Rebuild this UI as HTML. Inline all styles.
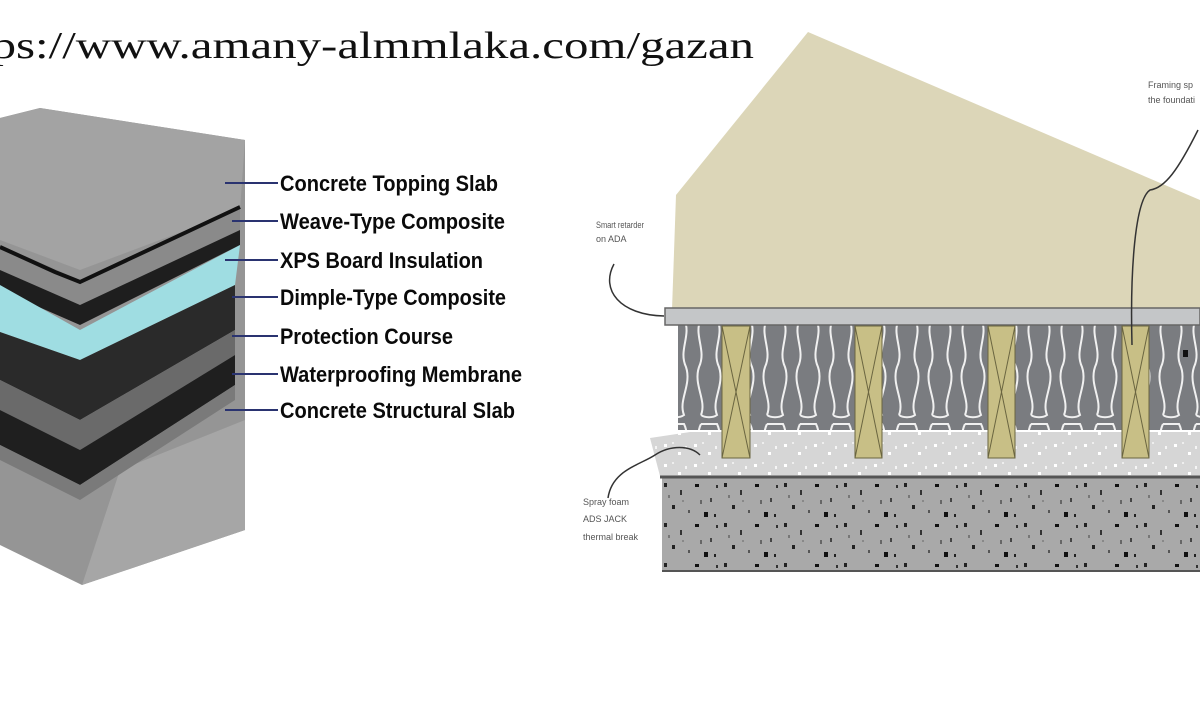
<!DOCTYPE html>
<html><head><meta charset="utf-8"><style>
html,body{margin:0;padding:0;background:#fff;width:1200px;height:720px;overflow:hidden}
</style></head><body>
<svg width="1200" height="720" viewBox="0 0 1200 720" xmlns="http://www.w3.org/2000/svg">
<defs>
<pattern id="spk" width="60" height="40" patternUnits="userSpaceOnUse">
<rect width="60" height="40" fill="#a9a9a9"/>
<rect x="4" y="3" width="3" height="4" fill="#222"/><rect x="20" y="10" width="2" height="5" fill="#333"/>
<rect x="35" y="4" width="4" height="3" fill="#111"/><rect x="50" y="18" width="2" height="4" fill="#444"/>
<rect x="12" y="25" width="3" height="4" fill="#222"/><rect x="28" y="30" width="2" height="3" fill="#555"/>
<rect x="44" y="32" width="4" height="5" fill="#111"/><rect x="8" y="15" width="2" height="3" fill="#777"/>
<rect x="40" y="20" width="2" height="4" fill="#666"/><rect x="56" y="5" width="2" height="3" fill="#333"/>
<rect x="22" y="20" width="2" height="2" fill="#888"/><rect x="54" y="34" width="2" height="3" fill="#222"/>
</pattern>
<pattern id="foam" width="30" height="20" patternUnits="userSpaceOnUse">
<rect width="30" height="20" fill="#d6d6d6"/>
<rect x="4" y="4" width="3" height="3" fill="#fff"/><rect x="18" y="12" width="3" height="3" fill="#fff"/>
<rect x="12" y="2" width="2" height="2" fill="#eee"/><rect x="25" y="6" width="2" height="3" fill="#f4f4f4"/>
</pattern>
<pattern id="batt" width="33" height="105" patternUnits="userSpaceOnUse">
<rect width="33" height="105" fill="#7a7c80"/>
<path d="M8 4 C0 20,14 35,6 52 C0 70,14 85,8 100 M8 4 C20 4,22 4,24 4 C32 20,18 35,26 52 C32 70,18 85,24 100 C20 103,12 103,8 100" stroke="#f0f0f0" stroke-width="2" fill="none"/>
</pattern>
</defs>

<text x="-22" y="58" font-family="Liberation Serif, serif" font-size="38" fill="#111" textLength="776" lengthAdjust="spacingAndGlyphs">tps://www.amany-almmlaka.com/gazan</text>

<polygon points="0,118 40,108 245,140 245,530 82,585 0,545" fill="#959595"/>
<polygon points="0,118 40,108 245,140 240,210 80,270 0,240" fill="#a3a3a3"/>
<polygon points="120,470 245,420 245,530 82,585" fill="#a6a6a6"/>
<polygon points="0,245 80,280 240,205 240,230 80,305 0,270" fill="#8a8a8a"/>
<polyline points="0,247 55,272 80,282 240,207" stroke="#111" stroke-width="4" fill="none"/>
<polygon points="0,270 80,305 240,230 240,245 80,325 0,290" fill="#1e1e1e"/>
<polygon points="0,285 80,330 240,245 235,285 80,360 0,332" fill="#9fdde2"/>
<polygon points="0,332 80,360 235,285 235,330 80,420 0,380" fill="#2a2a2a"/>
<polygon points="0,380 80,420 235,330 235,355 80,450 0,410" fill="#6a6a6a"/>
<polygon points="0,410 80,450 235,355 235,385 80,485 0,445" fill="#1f1f1f"/>
<polygon points="0,445 80,485 235,385 235,400 80,500 0,460" fill="#7a7a7a"/>

<g stroke="#2a3370" stroke-width="2">
<line x1="225" y1="183" x2="278" y2="183"/><line x1="232" y1="221" x2="278" y2="221"/>
<line x1="225" y1="260" x2="278" y2="260"/><line x1="232" y1="297" x2="278" y2="297"/>
<line x1="232" y1="336" x2="278" y2="336"/><line x1="232" y1="374" x2="278" y2="374"/>
<line x1="225" y1="410" x2="278" y2="410"/>
</g>
<g font-family="Liberation Sans, sans-serif" font-weight="bold" font-size="22" fill="#0a0a0a">
<text x="280" y="191" textLength="218" lengthAdjust="spacingAndGlyphs">Concrete Topping Slab</text>
<text x="280" y="229" textLength="225" lengthAdjust="spacingAndGlyphs">Weave-Type Composite</text>
<text x="280" y="268" textLength="203" lengthAdjust="spacingAndGlyphs">XPS Board Insulation</text>
<text x="280" y="305" textLength="226" lengthAdjust="spacingAndGlyphs">Dimple-Type Composite</text>
<text x="280" y="344" textLength="173" lengthAdjust="spacingAndGlyphs">Protection Course</text>
<text x="280" y="382" textLength="242" lengthAdjust="spacingAndGlyphs">Waterproofing Membrane</text>
<text x="280" y="418" textLength="235" lengthAdjust="spacingAndGlyphs">Concrete Structural Slab</text>
</g>

<polygon points="676,195 808,32 1200,200 1200,310 672,310" fill="#dcd6b8"/>
<rect x="678" y="325" width="522" height="105" fill="url(#batt)"/>
<polygon points="650,438 690,432 1200,432 1200,476 660,476" fill="url(#foam)"/>
<rect x="662" y="478" width="538" height="92" fill="url(#spk)"/>
<line x1="660" y1="477" x2="1200" y2="477" stroke="#555" stroke-width="3"/>
<line x1="662" y1="571" x2="1200" y2="571" stroke="#555" stroke-width="2"/>
<rect x="665" y="308" width="535" height="17" fill="#c4c6c8" stroke="#666" stroke-width="1.5"/>
<g stroke="#6a6540" stroke-width="1" fill="#c8bf86">
<rect x="722" y="326" width="28" height="132"/><line x1="722" y1="326" x2="750" y2="458"/><line x1="750" y1="326" x2="722" y2="458"/>
<rect x="855" y="326" width="27" height="132"/><line x1="855" y1="326" x2="882" y2="458"/><line x1="882" y1="326" x2="855" y2="458"/>
<rect x="988" y="326" width="27" height="132"/><line x1="988" y1="326" x2="1015" y2="458"/><line x1="1015" y1="326" x2="988" y2="458"/>
<rect x="1122" y="326" width="27" height="132"/><line x1="1122" y1="326" x2="1149" y2="458"/><line x1="1149" y1="326" x2="1122" y2="458"/>
</g>
<g stroke="#333" stroke-width="1.5" fill="none">
<path d="M614 264 C600 290,620 315,664 316"/>
<path d="M1132 345 C1130 270,1135 200,1150 190 C1165 188,1178 170,1198 130"/>
<path d="M608 498 C612 470,640 465,655 455 C670 445,690 445,700 455"/>
</g>
<rect x="1183" y="350" width="5" height="7" fill="#111"/>
<g font-family="Liberation Sans, sans-serif" font-size="9" fill="#555">
<text x="596" y="228" textLength="48" lengthAdjust="spacingAndGlyphs">Smart retarder</text>
<text x="596" y="242">on ADA</text>
<text x="1148" y="88">Framing sp</text>
<text x="1148" y="103">the foundati</text>
<text x="583" y="505">Spray foam</text>
<text x="583" y="522">ADS JACK</text>
<text x="583" y="540">thermal break</text>
</g>
</svg>
</body></html>
